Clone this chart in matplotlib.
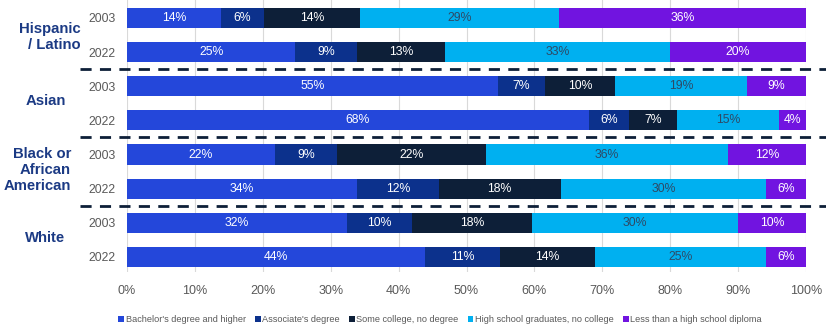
import matplotlib.pyplot as plt
import numpy as np

plt.rcParams['font.family'] = ['Liberation Sans', 'DejaVu Sans']

# datos (porcentaje de cada nivel educativo)
grupos = ['Hispanic\n/ Latino', 'Asian', 'Black or\nAfrican\nAmerican', 'White']
anios = ['2003', '2022', '2003', '2022', '2003', '2022', '2003', '2022']
categorias = ["Bachelor's degree and higher", "Associate's degree", 'Some college, no degree',
              'High school graduates, no college', 'Less than a high school diploma']

licenciatura = [13.8, 24.8, 54.6, 68.0, 21.8, 33.9, 32.4, 43.9]
asociado = [6.4, 9.1, 6.9, 5.9, 9.1, 12.0, 9.6, 11.1]
algo_college = [14.1, 13.0, 10.4, 7.1, 22.0, 18.0, 17.6, 13.9]
preparatoria = [29.3, 33.1, 19.4, 15.0, 35.6, 30.2, 30.4, 25.2]
sin_diploma = [36.4, 20.0, 8.7, 4.0, 11.5, 5.9, 10.0, 5.9]

series = [licenciatura, asociado, algo_college, preparatoria, sin_diploma]
colores = ['#2447DA', '#0C318C', '#0D1F38', '#00B0F0', '#7114E0']
color_texto = ['white', 'white', 'white', '#2E4A66', 'white']

fig = plt.figure(figsize=(8.26, 3.31), dpi=100)
ax = fig.add_axes([127/826, 1 - 272/331, 679/826, 272/331])

y = np.arange(len(anios))
izq = np.zeros(len(anios))
for vals, col, tc, nombre in zip(series, colores, color_texto, categorias):
    vals = np.array(vals)
    ax.barh(y, vals, left=izq, height=0.59, color=col, label=nombre, zorder=3)
    for yi, l, v in zip(y, izq, vals):
        ax.text(l + v / 2, yi, f'{round(v)}%', ha='center', va='center',
                color=tc, fontsize=8.8, zorder=4)
    izq += vals

ax.set_xlim(0, 100)
ax.set_ylim(7.44, -0.527)
ax.set_xticks(np.arange(0, 101, 10))
ax.set_xticklabels([f'{v}%' for v in range(0, 101, 10)], fontsize=9, color='#595959')
ax.set_yticks(y)
ax.set_yticklabels(anios, fontsize=8.8, color='#595959')
ax.tick_params(axis='x', length=0, pad=9)
ax.tick_params(axis='y', length=0, pad=8)
ax.grid(axis='x', color='#D9D9D9', linewidth=0.8, zorder=0)
for s in ax.spines.values():
    s.set_visible(False)

# lineas punteadas que separan los grupos
for sep in [1.5, 3.5, 5.5]:
    ax.plot([-47/679, 699/679], [sep, sep], transform=ax.get_yaxis_transform(),
            color='#0D1F38', linewidth=2, linestyle=(0, (4, 3)), clip_on=False, zorder=5)

# nombres de los grupos
pos_grupos = [(81, 37, 'right'), (45.5, 101, 'center'), (71, 170, 'right'), (45, 238, 'center')]
for g, (px, py, al) in zip(grupos, pos_grupos):
    fig.text(px / 826, 1 - py / 331, g, ha=al, va='center', multialignment=al,
             fontsize=10.7, fontweight='bold', color='#1B3A84', linespacing=1.2)

fig.legend(loc='center', bbox_to_anchor=(0.533, 1 - 320/331), ncol=5, frameon=False,
           fontsize=6.6, handlelength=0.6, handleheight=0.6, handletextpad=0.2,
           columnspacing=1.0, labelcolor='#595959')

plt.savefig('out.png', dpi=100)
